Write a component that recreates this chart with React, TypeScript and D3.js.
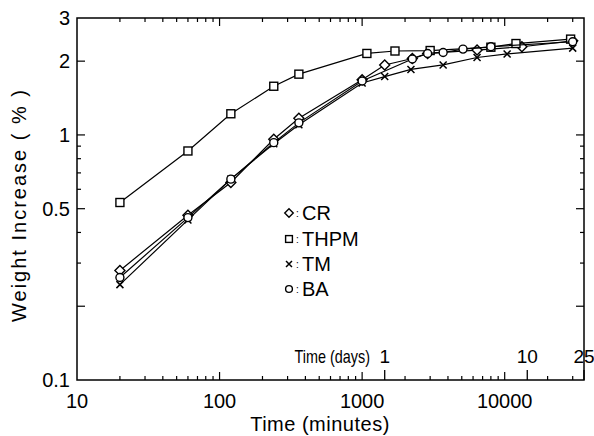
import React from "react";
import * as d3 from "d3";

const seriesNames = ["CR", "THPM", "TM", "BA"];
const markerTypes = ["diamond", "square", "cross", "circle"];

const crTime = [20, 60, 120, 240, 360, 1000, 1440, 2250, 2880, 6400, 13200, 30000];
const crValue = [0.28, 0.47, 0.64, 0.96, 1.17, 1.68, 1.93, 2.05, 2.15, 2.22, 2.29, 2.42];

const thpmTime = [20, 60, 120, 240, 360, 1080, 1700, 3000, 8000, 12000, 29000];
const thpmValue = [0.53, 0.86, 1.22, 1.58, 1.77, 2.15, 2.2, 2.21, 2.28, 2.36, 2.46];

const tmTime = [20, 60, 120, 240, 360, 1000, 1440, 2200, 3700, 6400, 10400, 30000];
const tmValue = [0.245, 0.45, 0.66, 0.92, 1.1, 1.63, 1.73, 1.85, 1.93, 2.07, 2.14, 2.26];

const baTime = [20, 60, 120, 240, 360, 1000, 2250, 2880, 3700, 5100, 8000, 30000];
const baValue = [0.262, 0.46, 0.66, 0.93, 1.12, 1.66, 2.04, 2.15, 2.17, 2.24, 2.29, 2.4];

const xTickLabels = [10, 100, 1000, 10000];
const yTickLabels = [0.1, 0.5, 1, 2, 3];
const dayTickLabels = [1, 10, 25];

const W = 594;
const H = 436;
const FONT = "'Liberation Sans', Arial, Helvetica, sans-serif";

const x = d3.scaleLog().domain([10, 36000]).range([77, 584]);
const y = d3.scaleLog().domain([0.1, 3]).range([380, 18]);

const series = [
  { name: seriesNames[0], marker: markerTypes[0], t: crTime, v: crValue },
  { name: seriesNames[1], marker: markerTypes[1], t: thpmTime, v: thpmValue },
  { name: seriesNames[2], marker: markerTypes[2], t: tmTime, v: tmValue },
  { name: seriesNames[3], marker: markerTypes[3], t: baTime, v: baValue },
];

function Marker({ type, cx, cy, s = 1 }: { type: string; cx: number; cy: number; s?: number }) {
  const common = { fill: "white", stroke: "black", strokeWidth: 1.4 };
  if (type === "square") {
    const h = 4 * s;
    return <rect x={cx - h} y={cy - h} width={2 * h} height={2 * h} {...common} />;
  }
  if (type === "diamond") {
    const h = 5 * s;
    return <path d={`M${cx},${cy - h}L${cx + h},${cy}L${cx},${cy + h}L${cx - h},${cy}Z`} {...common} />;
  }
  if (type === "circle") {
    return <circle cx={cx} cy={cy} r={4 * s} {...common} />;
  }
  const h = 3.5 * s;
  return (
    <path
      d={`M${cx - h},${cy - h}L${cx + h},${cy + h}M${cx - h},${cy + h}L${cx + h},${cy - h}`}
      stroke="black"
      strokeWidth={1.5}
      fill="none"
    />
  );
}

export default function App() {
  const [x0, x1] = x.range();
  const [y0, y1] = y.range();

  const xTicks: { v: number; major: boolean }[] = [];
  for (let d = 10; d <= 10000; d *= 10) {
    for (let k = 1; k <= 9; k++) {
      const v = d * k;
      if (v > 10 && v < 36000) xTicks.push({ v, major: k === 1 });
    }
  }
  const yTicks: { v: number; major: boolean }[] = [];
  [0.1, 1].forEach((d) => {
    for (let k = 1; k <= 9; k++) {
      const v = +(d * k).toFixed(3);
      if (v > 0.1 && v < 3) yTicks.push({ v, major: k === 1 || k === 2 || k === 5 });
    }
  });

  const line = d3
    .line<[number, number]>()
    .x((d) => x(d[0]))
    .y((d) => y(d[1]));

  const legendY = [213, 239, 264, 289];

  return (
    <svg
      width={W}
      height={H}
      style={{ position: "absolute", left: 0, top: 0, background: "white" }}
      fontFamily={FONT}
    >
      <rect x={0} y={0} width={W} height={H} fill="white" />
      <rect x={x0} y={y1} width={x1 - x0} height={y0 - y1} fill="none" stroke="black" strokeWidth={1.5} />

      {xTicks.map((t, i) => {
        const px = x(t.v);
        const len = t.major ? 8 : 4;
        return (
          <g key={"xt" + i}>
            <line x1={px} x2={px} y1={y0} y2={y0 - len} stroke="black" strokeWidth={1.2} />
            <line x1={px} x2={px} y1={y1} y2={y1 + len} stroke="black" strokeWidth={1.2} />
          </g>
        );
      })}
      {dayTickLabels.map((d, i) => {
        const px = Math.min(x(d * 1440), x1);
        return (
          <g key={"dt" + i}>
            <line x1={px} x2={px} y1={y0} y2={y0 - 10} stroke="black" strokeWidth={1.3} />
            <text x={px} y={y0 - 17} textAnchor="middle" fontSize={19}>
              {d}
            </text>
          </g>
        );
      })}
      <text
        transform={`translate(370,${y0 - 17}) scale(0.8,1)`}
        textAnchor="end"
        fontSize={18}
      >
        Time (days)
      </text>

      {yTicks.map((t, i) => {
        const py = y(t.v);
        const len = t.major ? 8 : 4;
        return (
          <g key={"yt" + i}>
            <line x1={x0} x2={x0 + len} y1={py} y2={py} stroke="black" strokeWidth={1.2} />
            <line x1={x1} x2={x1 - len} y1={py} y2={py} stroke="black" strokeWidth={1.2} />
          </g>
        );
      })}

      {xTickLabels.map((v, i) => (
        <text key={"xl" + i} x={x(v)} y={408} textAnchor="middle" fontSize={20}>
          {v}
        </text>
      ))}
      {yTickLabels.map((v, i) => (
        <text key={"yl" + i} x={70} y={y(v) + 7} textAnchor="end" fontSize={20}>
          {v}
        </text>
      ))}

      <text x={320} y={431} textAnchor="middle" fontSize={20} letterSpacing={0.5}>
        Time (minutes)
      </text>
      <text
        transform={`translate(26,${205}) rotate(-90)`}
        textAnchor="middle"
        fontSize={20}
        letterSpacing={2}
      >
        Weight Increase ( % )
      </text>

      {series.map((s, si) => {
        const pts = s.t.map((t, i) => [t, s.v[i]] as [number, number]);
        return (
          <g key={"s" + si}>
            <path d={line(pts) || ""} fill="none" stroke="black" strokeWidth={1.2} />
            {pts.map((p, i) => (
              <Marker key={i} type={s.marker} cx={x(p[0])} cy={y(p[1])} />
            ))}
          </g>
        );
      })}

      {series.map((s, i) => (
        <g key={"lg" + i}>
          <Marker type={s.marker} cx={289} cy={legendY[i]} s={0.85} />
          <text x={296} y={legendY[i] + 4} fontSize={10}>
            :
          </text>
          <text x={302} y={legendY[i] + 7} fontSize={20}>
            {s.name}
          </text>
        </g>
      ))}
    </svg>
  );
}
